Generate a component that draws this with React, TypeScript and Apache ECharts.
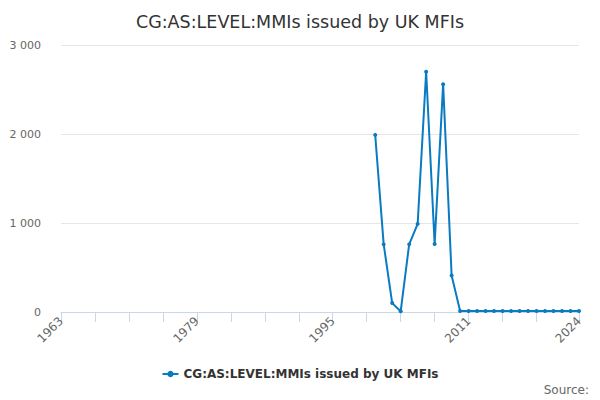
import React, { useEffect, useRef } from "react";
import * as echarts from "echarts";

const years: string[] = [];
for (let y = 1963; y <= 2024; y++) years.push(String(y));

const dataYears = [2000, 2001, 2002, 2003, 2004, 2005, 2006, 2007, 2008, 2009, 2010, 2011, 2012, 2013, 2014, 2015, 2016, 2017, 2018, 2019, 2020, 2021, 2022, 2023, 2024];
const dataValues = [1990, 760, 100, 8, 760, 990, 2700, 765, 2560, 410, 12, 12, 12, 12, 12, 12, 12, 12, 12, 12, 12, 12, 12, 12, 12];

const seriesName = "CG:AS:LEVEL:MMIs issued by UK MFIs";
const labelYears = ["1963", "1979", "1995", "2011", "2024"];

export default function App() {
  const ref = useRef<HTMLDivElement>(null);
  useEffect(() => {
    if (!ref.current) return;
    const chart = echarts.init(ref.current, undefined, { renderer: "svg" });
    const values = years.map((y) => {
      const i = dataYears.indexOf(Number(y));
      return i >= 0 ? dataValues[i] : null;
    });
    const last = years.length - 1;
    chart.setOption({
      animation: false,
      textStyle: { fontFamily: "DejaVu Sans" },
      title: {
        text: seriesName,
        left: "center",
        top: 8,
        textStyle: { fontSize: 17.5, fontWeight: "normal", color: "#333333", fontFamily: "DejaVu Sans" },
      },
      grid: { left: 61, right: 21, top: 45, bottom: 88, containLabel: false },
      xAxis: {
        type: "category",
        data: years,
        boundaryGap: false,
        axisLine: { lineStyle: { color: "#ccd6eb" } },
        axisTick: {
          length: 10,
          lineStyle: { color: "#ccd6eb" },
          interval: (i: number) => (i % 4 === 0 && i <= 56) || i === last,
        },
        axisLabel: {
          rotate: 45,
          color: "#666666",
          fontSize: 12,
          margin: 7,
          interval: (i: number, v: string) => labelYears.includes(v),
        },
        splitLine: { show: false },
      },
      yAxis: {
        type: "value",
        min: 0,
        max: 3000,
        interval: 1000,
        axisLine: { show: false },
        axisTick: { show: false },
        axisLabel: {
          color: "#666666",
          fontSize: 11,
          margin: 20,
          formatter: (v: number) => String(v).replace(/\B(?=(\d{3})+(?!\d))/g, " "),
        },
        splitLine: { lineStyle: { color: "#e6e6e6" } },
      },
      legend: {
        bottom: 15,
        left: "center",
        itemWidth: 16,
        itemHeight: 8,
        itemGap: 5,
        textStyle: { fontSize: 12, fontWeight: "bold", color: "#333333", fontFamily: "DejaVu Sans" },
        data: [seriesName],
      },
      graphic: [
        {
          type: "text",
          right: 11,
          bottom: 4,
          style: { text: "Source:", fontSize: 12, fill: "#666666", fontFamily: "DejaVu Sans" },
        },
      ],
      series: [
        {
          name: seriesName,
          type: "line",
          data: values,
          connectNulls: false,
          symbol: "circle",
          symbolSize: 4,
          showAllSymbol: true,
          lineStyle: { width: 2, color: "#0a7bc1" },
          itemStyle: { color: "#0a7bc1" },
        },
      ],
    });
    return () => chart.dispose();
  }, []);
  return <div ref={ref} style={{ width: 600, height: 400, position: "absolute", left: 0, top: 0 }} />;
}
